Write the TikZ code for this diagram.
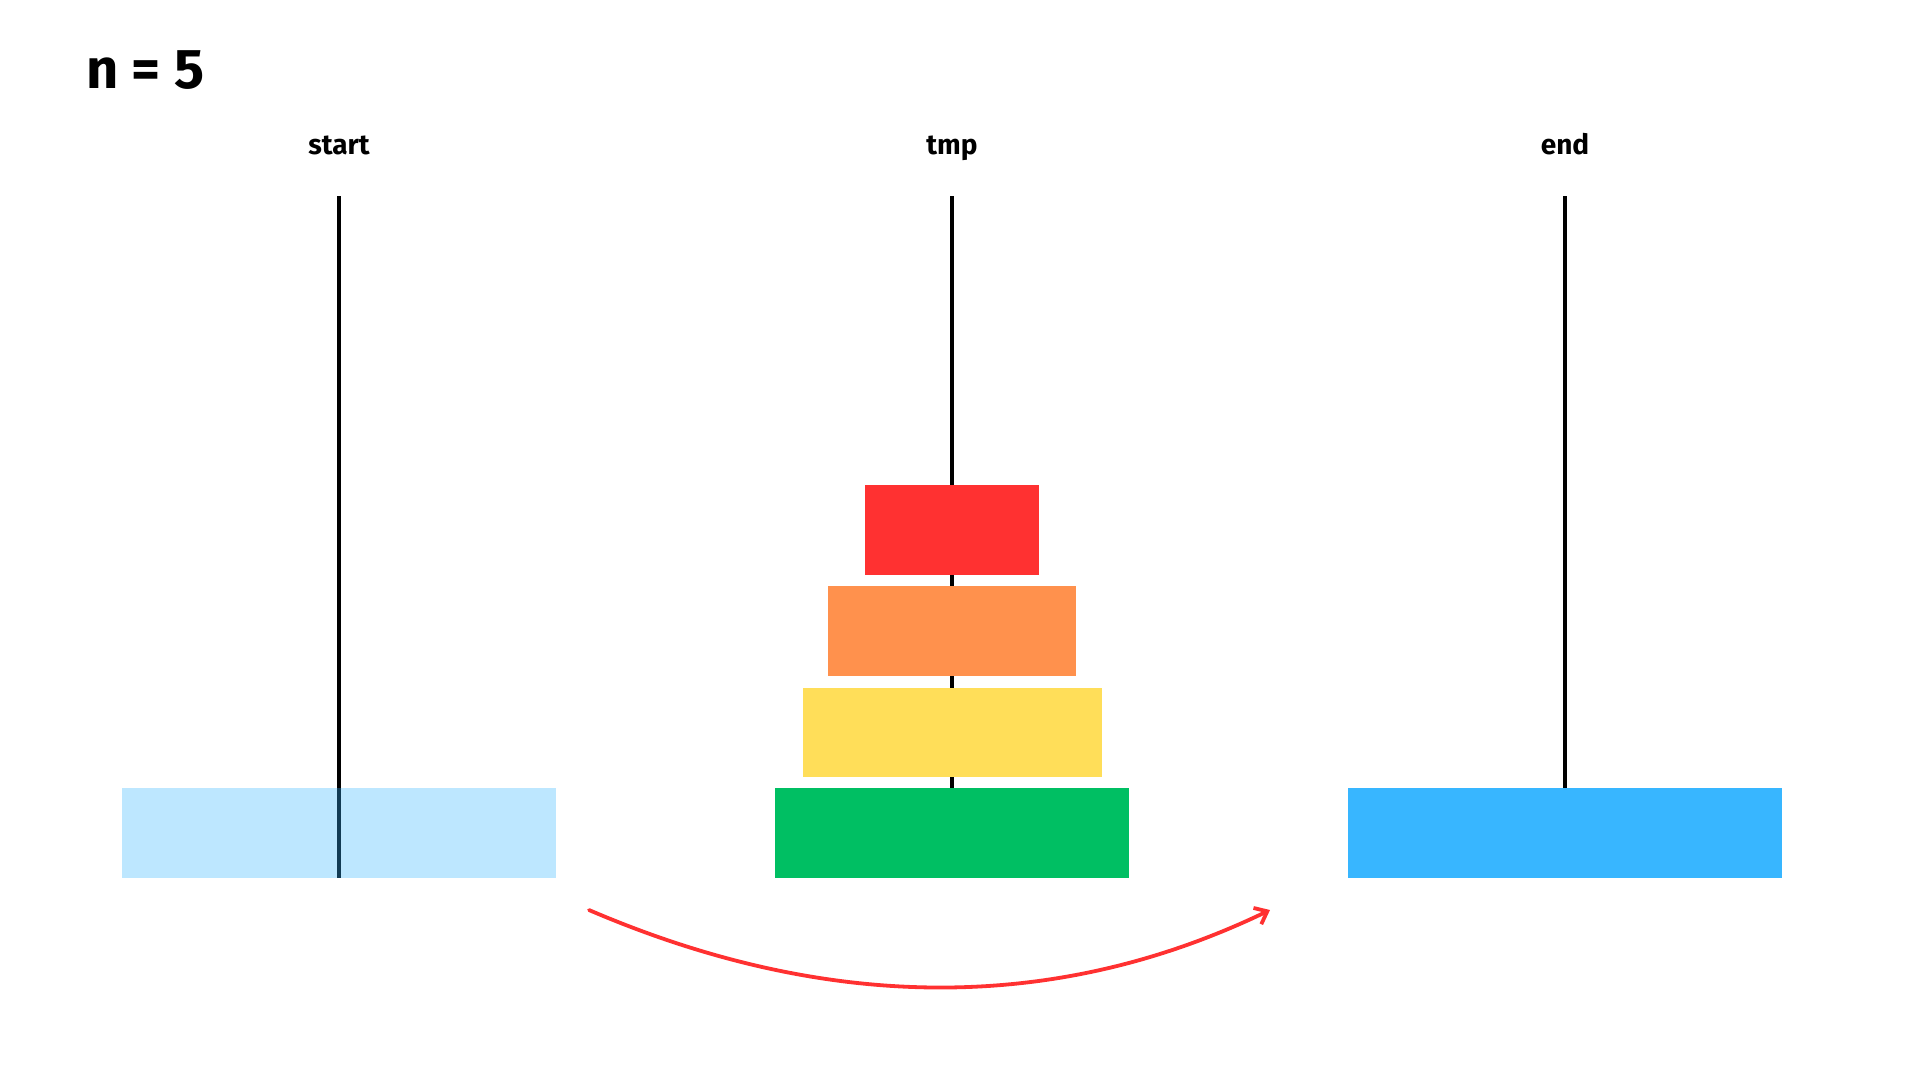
\documentclass[tikz,border=0pt]{standalone}
\usepackage{fontspec}
\setmainfont{Fira Sans}
\usetikzlibrary{arrows.meta}
\definecolor{lblue}{HTML}{BDE7FF}
\definecolor{cblue}{HTML}{38B6FF}
\definecolor{cgreen}{HTML}{00BF63}
\definecolor{cyellow}{HTML}{FFDE59}
\definecolor{corange}{HTML}{FF914D}
\definecolor{cred}{HTML}{FF3131}
\tikzset{
  disk/.style={inner sep=0pt, outer sep=0pt, minimum height=90pt},
  peg/.style={line width=3.3pt, black},
  lbl/.style={font=\bfseries\fontsize{28}{32}\selectfont, inner sep=0pt, anchor=base},
  move/.style={line width=3.8pt, cred, -{Straight Barb[length=11pt,width=18pt,line width=3.8pt]}, line cap=round}
}
\begin{document}
\begin{tikzpicture}[x=1pt,y=-1pt]
\useasboundingbox (0,0) rectangle (1920,1080);
% pegs
\coordinate (sTop) at (339,196); \coordinate (sBot) at (339,878);
\coordinate (tTop) at (952,196); \coordinate (tBot) at (952,878);
\coordinate (eTop) at (1565,196); \coordinate (eBot) at (1565,878);
\draw[peg] (sTop) -- (sBot);
\draw[peg] (tTop) -- (tBot);
\draw[peg] (eTop) -- (eBot);
% disks
\node[disk, fill=cblue, fill opacity=0.33, minimum width=434pt] (ghost) at (339,833) {};
\node[disk, fill=cgreen, minimum width=354pt] (d4) at (952,833) {};
\node[disk, fill=cyellow, minimum width=299pt, minimum height=89pt] (d3) at (952,732) {};
\node[disk, fill=corange, minimum width=248pt] (d2) at (952,631) {};
\node[disk, fill=cred, minimum width=174pt] (d1) at (952,530) {};
\node[disk, fill=cblue, minimum width=434pt] (d5) at (1565,833) {};
% labels
\node[lbl] (lstart) at (339,154) {start};
\node[lbl] (ltmp) at (952,154) {tmp};
\node[lbl] (lend) at (1565,154) {end};
\node[font=\bfseries\fontsize{56}{60}\selectfont, inner sep=0pt, anchor=base west] (n) at (86,88) {n = 5};
% move arrow
\coordinate (aS) at (589,910);
\coordinate (aE) at (1270,910);
\draw[move] (aS) .. controls (829,1013) and (1056,1013) .. (aE);
\end{tikzpicture}
\end{document}
